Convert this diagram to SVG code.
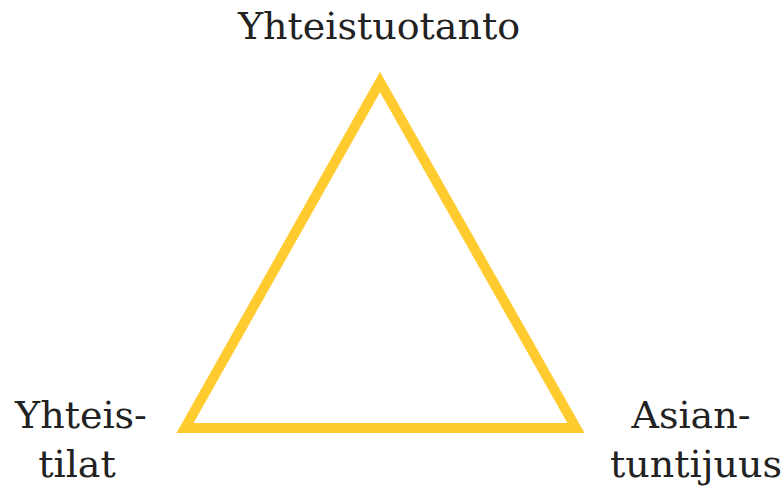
<svg xmlns="http://www.w3.org/2000/svg" width="783" height="490" viewBox="0 0 783 490">
<style>
.lbl{font-family:"DejaVu Serif","Liberation Serif",serif;font-size:38px;fill:#222;text-anchor:middle}
.tri{fill:none;stroke:#FFCB2F;stroke-width:10;stroke-linejoin:miter;stroke-miterlimit:10}
</style>
<rect width="783" height="490" fill="#fff"/>
<g id="triangle"><polygon class="tri" points="380,82 576,428 185,428"/></g>
<g id="connectors"></g>
<g id="node-top"><text class="lbl" x="379" y="39">Yhteistuotanto</text></g>
<g id="node-left"><text class="lbl" x="81" y="428">Yhteis-</text><text class="lbl" x="77" y="477">tilat</text></g>
<g id="node-right"><text class="lbl" x="691" y="428">Asian-</text><text class="lbl" x="696" y="477">tuntijuus</text></g>
</svg>
